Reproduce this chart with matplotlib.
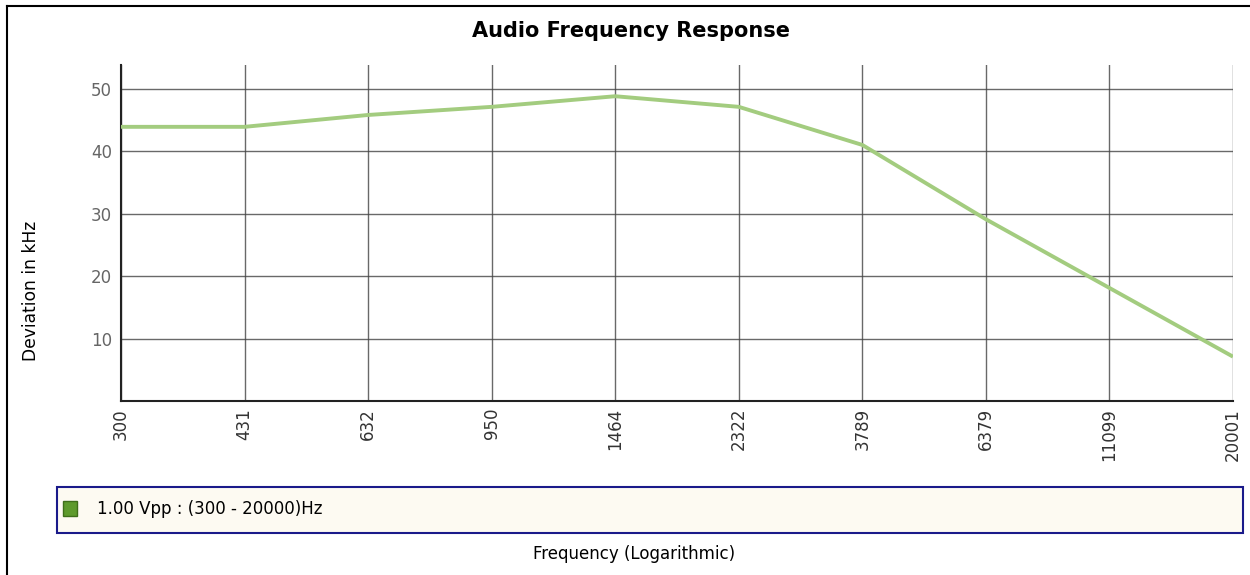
import matplotlib
matplotlib.use("Agg")
import matplotlib.pyplot as plt
from matplotlib.lines import Line2D
from matplotlib.patches import Rectangle

# frequency points (Hz), shown as equally spaced categories
freq_labels = ["300", "431", "632", "950", "1464", "2322", "3789", "6379", "11099", "20001"]
# deviation in kHz at each frequency
deviation = [43.9, 43.9, 45.8, 47.1, 48.8, 47.1, 41.0, 29.1, 18.1, 7.1]
y_ticks = [10, 20, 30, 40, 50]
series_label = "1.00 Vpp : (300 - 20000)Hz"

W, H = 1250, 575
fig = plt.figure(figsize=(W / 100, H / 100), dpi=100)
plt.rcParams["font.family"] = ["DejaVu Sans"]


def fx(px):
    return px / W


def fy(py):
    return 1 - py / H


# outer frame (only left and top edges are visible)
fig.lines.append(Line2D([fx(7), fx(7)], [0, fy(6)], transform=fig.transFigure,
                        color="black", linewidth=1.5))
fig.lines.append(Line2D([fx(7), 1], [fy(6), fy(6)], transform=fig.transFigure,
                        color="black", linewidth=1.5))

ax = fig.add_axes([fx(121), fy(401), fx(1233) - fx(121), fy(65) - fy(401)])
x = list(range(len(freq_labels)))
ax.plot(x, deviation, color="#a3cc7f", linewidth=2.8, solid_capstyle="butt", zorder=3)

ax.set_xlim(0, len(freq_labels) - 1)
ax.set_ylim(0, 53.8)
ax.set_xticks(x)
ax.set_xticklabels(freq_labels, rotation=90, fontsize=12, color="#333333")
ax.set_yticks(y_ticks)
ax.set_yticklabels([str(v) for v in y_ticks], fontsize=12, color="#666666")
ax.tick_params(axis="x", length=0, pad=5)
ax.tick_params(axis="y", length=0, pad=6.5)
ax.grid(True, color="#444444", linewidth=1.0, alpha=0.8)
ax.set_axisbelow(True)
for side in ["top", "right"]:
    ax.spines[side].set_visible(False)
for side in ["left", "bottom"]:
    ax.spines[side].set_linewidth(1.5)
    ax.spines[side].set_color("#222222")

fig.text(fx(631), fy(31), "Audio Frequency Response", ha="center", va="center",
         fontsize=15, fontweight="bold", color="black")
fig.text(fx(31), fy(291), "Deviation in kHz", rotation=90, ha="center", va="center",
         fontsize=12.3, color="black")
fig.text(fx(634), fy(554), "Frequency (Logarithmic)", ha="center", va="center",
         fontsize=12, color="black")

# legend box
fig.patches.append(Rectangle((fx(57), fy(533)), fx(1243) - fx(57), fy(487) - fy(533),
                             transform=fig.transFigure, facecolor="#fdfaf2",
                             edgecolor="#1a1a8a", linewidth=1.5))
fig.patches.append(Rectangle((fx(63), fy(516)), fx(77) - fx(63), fy(501) - fy(516),
                             transform=fig.transFigure, facecolor="#5e9a2c",
                             edgecolor="#3f6e1a", linewidth=1))
fig.text(fx(97), fy(509), series_label, ha="left", va="center", fontsize=12, color="black")

fig.savefig("out.png", dpi=100)
